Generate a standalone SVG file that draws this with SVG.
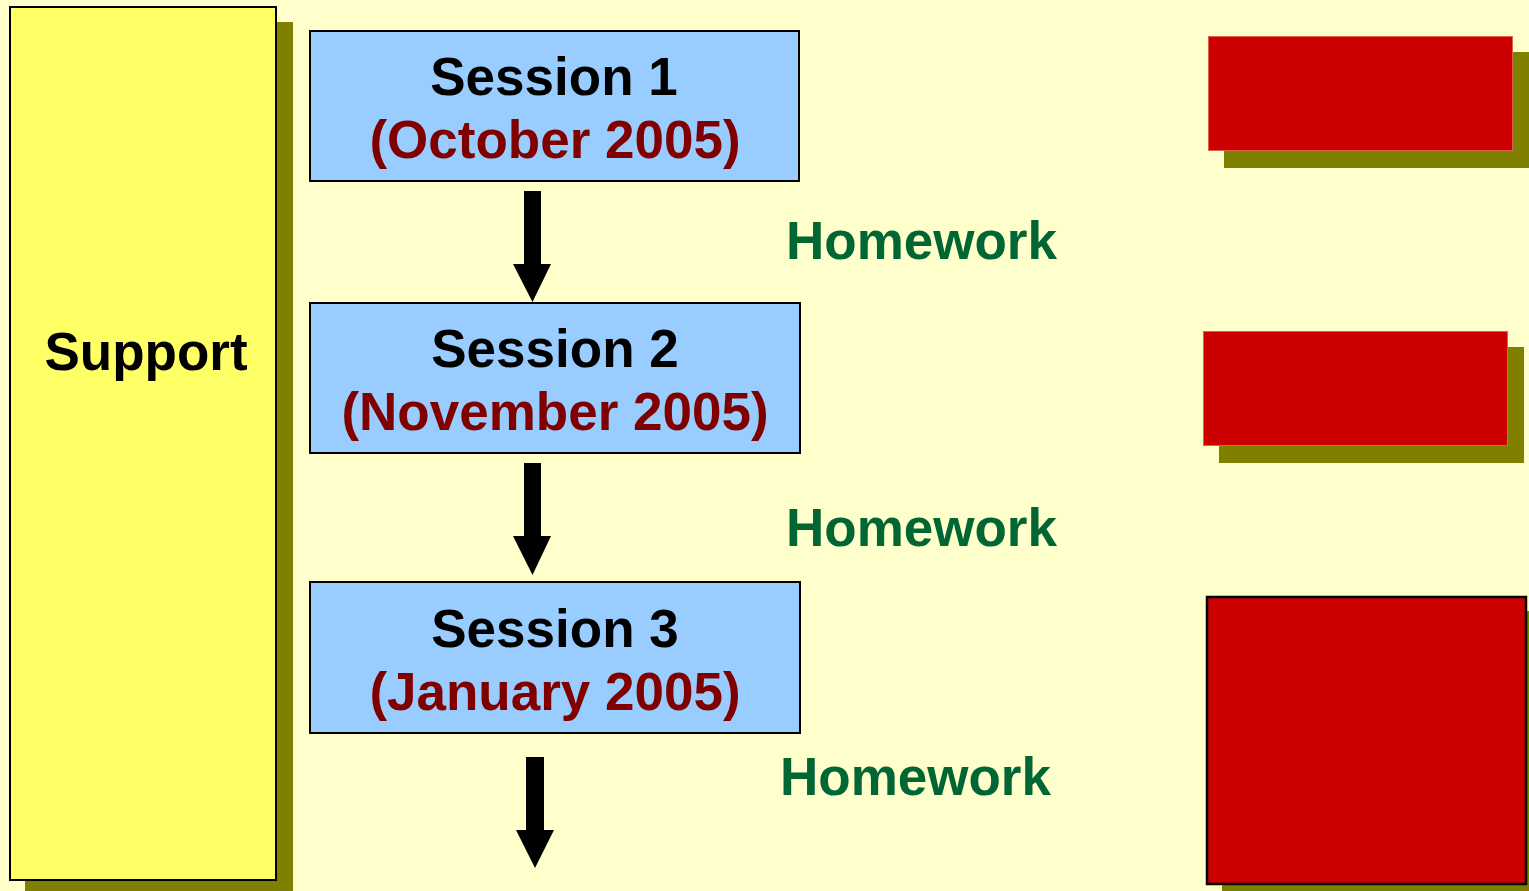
<svg xmlns="http://www.w3.org/2000/svg" width="1529" height="891" viewBox="0 0 1529 891">
  <style>
    .shadow { fill: #808000; }
    .support { fill: #FFFF66; stroke: #000; stroke-width: 2; }
    .session { fill: #99CCFF; stroke: #000; stroke-width: 2; }
    .redbox { fill: #CC0000; stroke: #E06050; stroke-width: 1; }
    .redbox3 { fill: #CC0000; stroke: #000; stroke-width: 2.5; }
    .t { font-family: "Liberation Sans", Arial, sans-serif; font-weight: bold; font-size: 53px; text-anchor: middle; }
    .black { fill: #000; }
    .date { fill: #800000; }
    .hw { fill: #006633; text-anchor: start; }
    .arrow { fill: #000; }
  </style>
  <rect x="0" y="0" width="1529" height="891" fill="#FFFFCC"/>

  <g id="support">
    <rect class="shadow" x="25" y="22" width="268" height="880"/>
    <rect class="support" x="10" y="7" width="266" height="873"/>
    <text class="t black" x="146" y="370">Support</text>
  </g>

  <g id="session1">
    <rect class="session" x="310" y="31" width="489" height="150"/>
    <text class="t black" x="554" y="95">Session 1</text>
    <text class="t date" x="555" y="158">(October 2005)</text>
  </g>

  <g id="session2">
    <rect class="session" x="310" y="303" width="490" height="150"/>
    <text class="t black" x="555" y="367">Session 2</text>
    <text class="t date" x="555" y="430">(November 2005)</text>
  </g>

  <g id="session3">
    <rect class="session" x="310" y="582" width="490" height="151"/>
    <text class="t black" x="555" y="647">Session 3</text>
    <text class="t date" x="555" y="710">(January 2005)</text>
  </g>

  <g id="homework1"><text class="t hw" x="786" y="259">Homework</text></g>
  <g id="homework2"><text class="t hw" x="786" y="546">Homework</text></g>
  <g id="homework3"><text class="t hw" x="780" y="795">Homework</text></g>

  <g id="red1">
    <rect class="shadow" x="1224" y="52" width="310" height="116"/>
    <rect class="redbox" x="1208.5" y="36.5" width="304" height="114"/>
  </g>
  <g id="red2">
    <rect class="shadow" x="1219" y="347" width="305" height="116"/>
    <rect class="redbox" x="1203.5" y="331.5" width="304" height="114"/>
  </g>
  <g id="red3">
    <rect class="shadow" x="1222" y="611" width="320" height="290"/>
    <rect class="redbox3" x="1207" y="597" width="319" height="287"/>
  </g>

  <g id="connectors">
    <polygon class="arrow" points="524,191 541,191 541,264 551,264 532.5,302 513,264 524,264"/>
    <polygon class="arrow" points="524,463 541,463 541,536 551,536 532.5,575 513,536 524,536"/>
    <polygon class="arrow" points="526,757 544,757 544,830 554,830 535,868 516,830 526,830"/>
  </g>
</svg>
